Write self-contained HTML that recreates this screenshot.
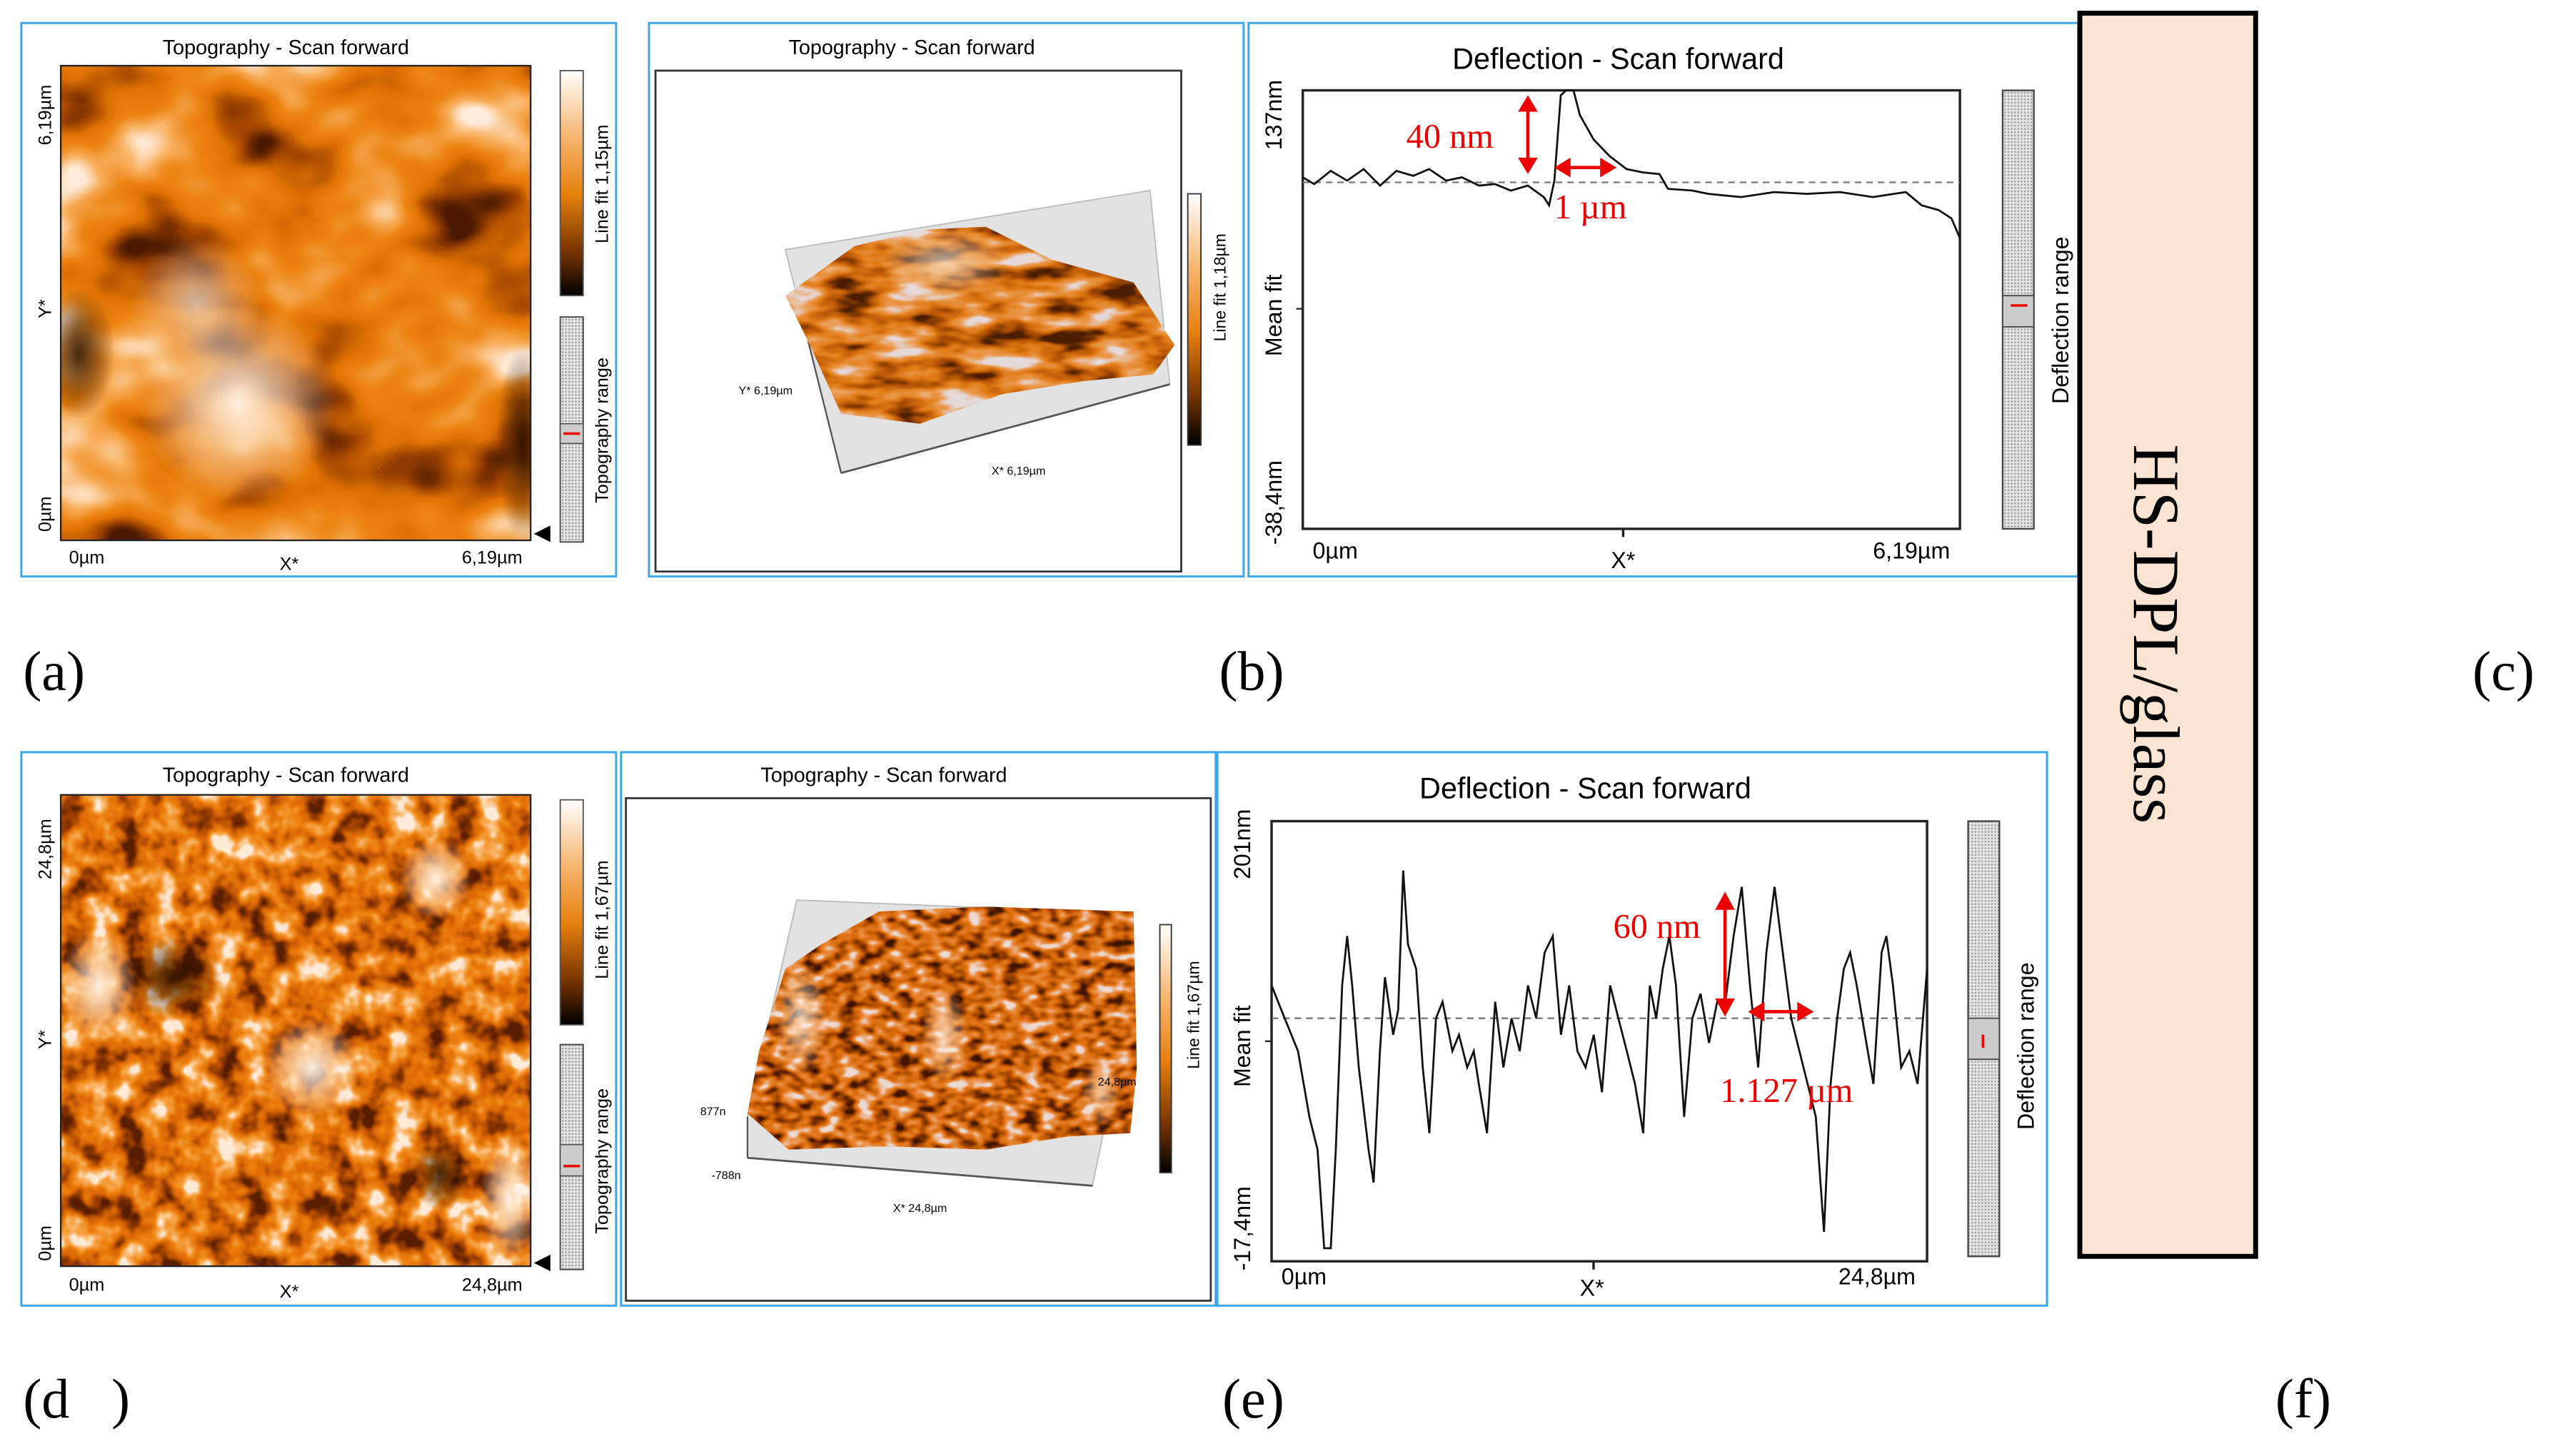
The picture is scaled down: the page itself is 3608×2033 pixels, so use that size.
<!DOCTYPE html>
<html><head><meta charset="utf-8"><style>
html,body{margin:0;padding:0;background:#fff;}
svg{display:block;}
text{font-family:"Liberation Sans",Arial,sans-serif;}
.serif{font-family:"Liberation Serif","Times New Roman",serif;}
filter{color-interpolation-filters:sRGB;}
</style></head><body>
<svg id="fig" width="3608" height="2033" viewBox="0 0 1568 883.5" xmlns="http://www.w3.org/2000/svg">
<defs>
  <linearGradient id="cbar" x1="0" y1="0" x2="0" y2="1">
    <stop offset="0" stop-color="#ffffff"/><stop offset="0.3" stop-color="#f6b46c"/><stop offset="0.55" stop-color="#e6800f"/><stop offset="0.8" stop-color="#7a3500"/><stop offset="1" stop-color="#000"/>
  </linearGradient>
  <pattern id="dots" width="2" height="2" patternUnits="userSpaceOnUse"><rect width="2" height="2" fill="#e4e4e4"/><rect width="1" height="1" fill="#9a9a9a"/></pattern>
  <filter id="topoA" x="0" y="0" width="1" height="1" color-interpolation-filters="sRGB">
    <feTurbulence type="fractalNoise" baseFrequency="0.012 0.016" numOctaves="3" seed="7"/>
    <feColorMatrix type="matrix" values="2.0 0 0 0 -0.5  2.0 0 0 0 -0.5  2.0 0 0 0 -0.5  0 0 0 0 1"/>
    <feComponentTransfer><feFuncR type="table" tableValues="0.3 0.65 0.88 0.93 0.97 1"/><feFuncG type="table" tableValues="0.1 0.28 0.45 0.52 0.68 0.92"/><feFuncB type="table" tableValues="0 0 0.02 0.08 0.35 0.85"/></feComponentTransfer>
  </filter>
  <filter id="topoD" x="0" y="0" width="1" height="1" color-interpolation-filters="sRGB">
    <feTurbulence type="fractalNoise" baseFrequency="0.055" numOctaves="3" seed="3"/>
    <feColorMatrix type="matrix" values="2.0 0 0 0 -0.5  2.0 0 0 0 -0.5  2.0 0 0 0 -0.5  0 0 0 0 1"/>
    <feComponentTransfer><feFuncR type="table" tableValues="0.35 0.62 0.85 0.93 0.97 1"/><feFuncG type="table" tableValues="0.12 0.25 0.4 0.5 0.66 0.92"/><feFuncB type="table" tableValues="0 0 0.02 0.06 0.3 0.85"/></feComponentTransfer>
  </filter>
  <filter id="surfB" x="0" y="0" width="1" height="1" color-interpolation-filters="sRGB">
    <feTurbulence type="fractalNoise" baseFrequency="0.03 0.08" numOctaves="3" seed="11"/>
    <feColorMatrix type="matrix" values="2 0 0 0 -0.5  2 0 0 0 -0.5  2 0 0 0 -0.5  0 0 0 0 1"/>
    <feComponentTransfer><feFuncR type="table" tableValues="0.3 0.7 0.88 0.92 0.9"/><feFuncG type="table" tableValues="0.12 0.32 0.48 0.6 0.85"/><feFuncB type="table" tableValues="0 0.02 0.08 0.3 0.85"/></feComponentTransfer>
  </filter>
  <filter id="surfE" x="0" y="0" width="1" height="1" color-interpolation-filters="sRGB">
    <feTurbulence type="fractalNoise" baseFrequency="0.09 0.14" numOctaves="2" seed="5"/>
    <feColorMatrix type="matrix" values="2 0 0 0 -0.5  2 0 0 0 -0.5  2 0 0 0 -0.5  0 0 0 0 1"/>
    <feComponentTransfer><feFuncR type="table" tableValues="0.25 0.62 0.86 0.92 0.92"/><feFuncG type="table" tableValues="0.08 0.26 0.42 0.55 0.85"/><feFuncB type="table" tableValues="0 0 0.04 0.25 0.82"/></feComponentTransfer>
  </filter>
  <radialGradient id="hiA" cx="0.5" cy="0.5" r="0.5"><stop offset="0" stop-color="#fff6ea" stop-opacity="0.95"/><stop offset="1" stop-color="#fff6ea" stop-opacity="0"/></radialGradient>
  <radialGradient id="loA" cx="0.5" cy="0.5" r="0.5"><stop offset="0" stop-color="#1a0800" stop-opacity="0.8"/><stop offset="1" stop-color="#1a0800" stop-opacity="0"/></radialGradient>
  <clipPath id="clipA"><rect x="37" y="40" width="286" height="289"/></clipPath>
  <clipPath id="clipD"><rect x="37" y="484" width="286" height="287"/></clipPath>
  <clipPath id="clipSB"><polygon points="478,180 520,150 560,140 600,138 640,158 690,172 715,210 702,228 660,232 610,240 560,258 512,252 492,208"/></clipPath>
  <clipPath id="clipSE"><polygon points="455,678 462,640 478,590 500,575 535,555 600,552 690,555 692,650 688,690 650,692 600,700 540,698 480,700"/></clipPath>
</defs>

<!-- Panel a -->
<g>
  <rect x="13" y="14" width="362" height="337" fill="#fff" stroke="#3aa8e8" stroke-width="1.3"/>
  <text x="174" y="33" font-size="12.5" text-anchor="middle">Topography - Scan forward</text>
  <g clip-path="url(#clipA)">
    <rect x="37" y="40" width="286" height="289" filter="url(#topoA)"/>
    <ellipse cx="145" cy="245" rx="60" ry="60" fill="url(#hiA)"/>
    <ellipse cx="120" cy="185" rx="40" ry="40" fill="url(#hiA)" opacity="0.7"/>
    <ellipse cx="48" cy="215" rx="22" ry="40" fill="url(#loA)"/>
    <ellipse cx="318" cy="270" rx="16" ry="60" fill="url(#loA)"/>
  </g>
  <rect x="37" y="40" width="286" height="289" fill="none" stroke="#222" stroke-width="1"/>
  <text transform="translate(31,70) rotate(-90)" font-size="11" text-anchor="middle">6,19µm</text>
  <text transform="translate(31,188) rotate(-90)" font-size="11" text-anchor="middle">Y*</text>
  <text transform="translate(31,313) rotate(-90)" font-size="11" text-anchor="middle">0µm</text>
  <text x="42" y="343" font-size="11">0µm</text>
  <text x="176" y="347" font-size="11" text-anchor="middle">X*</text>
  <text x="318" y="343" font-size="11" text-anchor="end">6,19µm</text>
  <rect x="341" y="43" width="14" height="137" fill="url(#cbar)" stroke="#555" stroke-width="0.8"/>
  <text transform="translate(370,112) rotate(-90)" font-size="11" text-anchor="middle">Line fit 1,15µm</text>
  <rect x="341" y="193" width="14" height="137" fill="url(#dots)" stroke="#444" stroke-width="0.8"/>
  <rect x="341" y="258" width="14" height="12" fill="#ccc" stroke="#444" stroke-width="0.6"/>
  <line x1="343" y1="264" x2="353" y2="264" stroke="#e00" stroke-width="1.5"/>
  <text transform="translate(370,262) rotate(-90)" font-size="11" text-anchor="middle">Topography range</text>
  <polygon points="325,325 335,320 335,330" fill="#000"/>
</g>

<!-- Panel b 3D -->
<g>
  <rect x="395" y="14" width="362" height="337" fill="#fff" stroke="#3aa8e8" stroke-width="1.3"/>
  <text x="555" y="33" font-size="12.5" text-anchor="middle">Topography - Scan forward</text>
  <rect x="399" y="43" width="320" height="305" fill="#fff" stroke="#333" stroke-width="1.2"/>
  <polygon points="478,152 700,116 712,234 512,288" fill="#e2e2e2" stroke="#bbb" stroke-width="0.8"/>
  <line x1="512" y1="288" x2="712" y2="234" stroke="#555" stroke-width="1.2"/>
  <line x1="512" y1="288" x2="492" y2="208" stroke="#555" stroke-width="1"/>
  <g clip-path="url(#clipSB)">
    <rect x="470" y="130" width="250" height="135" filter="url(#surfB)"/>
    <ellipse cx="575" cy="160" rx="40" ry="22" fill="url(#hiA)" opacity="0.7"/>
  </g>
  <text x="466" y="240" font-size="7" text-anchor="middle">Y* 6,19µm</text>
  <text x="620" y="289" font-size="7" text-anchor="middle">X* 6,19µm</text>
  <rect x="723" y="118" width="8" height="153" fill="url(#cbar)" stroke="#333" stroke-width="0.8"/>
  <text transform="translate(746,175) rotate(-90)" font-size="10" text-anchor="middle">Line fit 1,18µm</text>
</g>

<!-- Panel c deflection -->
<g>
  <rect x="760" y="14" width="505" height="337" fill="#fff" stroke="#3aa8e8" stroke-width="1.3"/>
  <text x="985" y="42" font-size="18" text-anchor="middle">Deflection - Scan forward</text>
  <rect x="793" y="55" width="400" height="267" fill="#fff" stroke="#222" stroke-width="1.5"/>
  <g id="chartC"></g>
  <text transform="translate(780,70) rotate(-90)" font-size="14" text-anchor="middle">137nm</text>
  <text transform="translate(780,192) rotate(-90)" font-size="14" text-anchor="middle">Mean fit</text>
  <text transform="translate(780,306) rotate(-90)" font-size="14" text-anchor="middle">-38,4nm</text>
  <line x1="789" y1="188" x2="793" y2="188" stroke="#222"/>
  <line x1="988" y1="322" x2="988" y2="327" stroke="#222" stroke-width="1.5"/>
  <text x="799" y="340" font-size="14">0µm</text>
  <text x="988" y="346" font-size="14" text-anchor="middle">X*</text>
  <text x="1187" y="340" font-size="14" text-anchor="end">6,19µm</text>
  <rect x="1219" y="55" width="19" height="267" fill="url(#dots)" stroke="#444" stroke-width="1"/>
  <rect x="1219" y="180" width="19" height="19" fill="#ccc" stroke="#444" stroke-width="0.8"/>
  <line x1="1224" y1="186" x2="1234" y2="186" stroke="#e00" stroke-width="1.5"/>
  <text transform="translate(1259,195) rotate(-90)" font-size="14" text-anchor="middle">Deflection range</text>
  <g fill="#e00" stroke="#e00">
    <line x1="930" y1="64" x2="930" y2="100" stroke-width="2"/>
    <polygon points="930,58 924,68 936,68" stroke="none"/><polygon points="930,106 924,96 936,96" stroke="none"/>
    <text class="serif" x="856" y="90" font-size="21" stroke="none">40 nm</text>
    <line x1="952" y1="102" x2="978" y2="102" stroke-width="2"/>
    <polygon points="946,102 956,96 956,108" stroke="none"/><polygon points="984,102 974,96 974,108" stroke="none"/>
    <text class="serif" x="946" y="133" font-size="21" stroke="none">1 µm</text>
  </g>
</g>

<!-- HS-DPL/glass box -->
<rect x="1266" y="8" width="107" height="757" fill="#fce4d2" stroke="#000" stroke-width="3"/>
<text class="serif" transform="translate(1299,386) rotate(90)" font-size="40" text-anchor="middle">HS-DPL/glass</text>

<!-- Labels -->
<text class="serif" x="14" y="420" font-size="34">(a)</text>
<text class="serif" x="742" y="420" font-size="34">(b)</text>
<text class="serif" x="1505" y="420" font-size="34">(c)</text>
<text class="serif" x="14" y="863" font-size="34" xml:space="preserve">(d   )</text>
<text class="serif" x="744" y="863" font-size="34">(e)</text>
<text class="serif" x="1385" y="863" font-size="34">(f)</text>

<!-- Panel d -->
<g>
  <rect x="13" y="458" width="362" height="337" fill="#fff" stroke="#3aa8e8" stroke-width="1.3"/>
  <text x="174" y="476" font-size="12.5" text-anchor="middle">Topography - Scan forward</text>
  <g clip-path="url(#clipD)">
    <rect x="37" y="484" width="286" height="287" filter="url(#topoD)"/>
    <ellipse cx="60" cy="600" rx="24" ry="35" fill="url(#hiA)"/>
    <ellipse cx="190" cy="650" rx="30" ry="30" fill="url(#hiA)"/>
    <ellipse cx="265" cy="535" rx="22" ry="25" fill="url(#hiA)"/>
    <ellipse cx="310" cy="730" rx="18" ry="40" fill="url(#hiA)"/>
    <ellipse cx="105" cy="595" rx="30" ry="25" fill="url(#loA)"/>
    <ellipse cx="268" cy="715" rx="18" ry="22" fill="url(#loA)"/>
  </g>
  <rect x="37" y="484" width="286" height="287" fill="none" stroke="#222" stroke-width="1"/>
  <text transform="translate(31,517) rotate(-90)" font-size="11" text-anchor="middle">24,8µm</text>
  <text transform="translate(31,633) rotate(-90)" font-size="11" text-anchor="middle">Y*</text>
  <text transform="translate(31,757) rotate(-90)" font-size="11" text-anchor="middle">0µm</text>
  <text x="42" y="786" font-size="11">0µm</text>
  <text x="176" y="790" font-size="11" text-anchor="middle">X*</text>
  <text x="318" y="786" font-size="11" text-anchor="end">24,8µm</text>
  <rect x="341" y="487" width="14" height="137" fill="url(#cbar)" stroke="#555" stroke-width="0.8"/>
  <text transform="translate(370,560) rotate(-90)" font-size="11" text-anchor="middle">Line fit 1,67µm</text>
  <rect x="341" y="636" width="14" height="137" fill="url(#dots)" stroke="#444" stroke-width="0.8"/>
  <rect x="341" y="697" width="14" height="19" fill="#ccc" stroke="#444" stroke-width="0.6"/>
  <line x1="343" y1="710" x2="353" y2="710" stroke="#e00" stroke-width="1.5"/>
  <text transform="translate(370,707) rotate(-90)" font-size="11" text-anchor="middle">Topography range</text>
  <polygon points="325,769 335,764 335,774" fill="#000"/>
</g>

<!-- Panel e 3D -->
<g>
  <rect x="378" y="458" width="362" height="337" fill="#fff" stroke="#3aa8e8" stroke-width="1.3"/>
  <text x="538" y="476" font-size="12.5" text-anchor="middle">Topography - Scan forward</text>
  <rect x="381" y="486" width="356" height="306" fill="#fff" stroke="#333" stroke-width="1.2"/>
  <polygon points="485,548 655,555 690,600 665,722 455,705 455,680" fill="#e2e2e2" stroke="#bbb" stroke-width="0.8"/>
  <line x1="455" y1="705" x2="665" y2="722" stroke="#555" stroke-width="1.2"/>
  <line x1="455" y1="680" x2="455" y2="705" stroke="#555"/>
  <g clip-path="url(#clipSE)">
    <rect x="450" y="545" width="245" height="160" filter="url(#surfE)"/>
    <ellipse cx="488" cy="620" rx="16" ry="35" fill="url(#hiA)" opacity="0.8"/>
    <ellipse cx="575" cy="630" rx="14" ry="30" fill="url(#hiA)" opacity="0.7"/>
    <ellipse cx="670" cy="665" rx="12" ry="22" fill="url(#hiA)" opacity="0.6"/>
  </g>
  <text x="434" y="679" font-size="7" text-anchor="middle">877n</text>
  <text x="442" y="718" font-size="7" text-anchor="middle">-788n</text>
  <text x="680" y="661" font-size="7" text-anchor="middle">24,8µm</text>
  <text x="560" y="738" font-size="7" text-anchor="middle">X* 24,8µm</text>
  <rect x="706" y="563" width="7" height="151" fill="url(#cbar)" stroke="#333" stroke-width="0.8"/>
  <text transform="translate(730,618) rotate(-90)" font-size="10" text-anchor="middle">Line fit 1,67µm</text>
</g>

<!-- Panel f deflection -->
<g>
  <rect x="741" y="458" width="505" height="337" fill="#fff" stroke="#3aa8e8" stroke-width="1.3"/>
  <text x="965" y="486" font-size="18" text-anchor="middle">Deflection - Scan forward</text>
  <rect x="774" y="500" width="399" height="268" fill="#fff" stroke="#222" stroke-width="1.5"/>
  <g id="chartF"></g>
  <text transform="translate(761,514) rotate(-90)" font-size="14" text-anchor="middle">201nm</text>
  <text transform="translate(761,637) rotate(-90)" font-size="14" text-anchor="middle">Mean fit</text>
  <text transform="translate(761,748) rotate(-90)" font-size="14" text-anchor="middle">-17,4nm</text>
  <line x1="770" y1="634" x2="774" y2="634" stroke="#222"/>
  <line x1="970" y1="768" x2="970" y2="773" stroke="#222" stroke-width="1.5"/>
  <text x="780" y="782" font-size="14">0µm</text>
  <text x="969" y="789" font-size="14" text-anchor="middle">X*</text>
  <text x="1166" y="782" font-size="14" text-anchor="end">24,8µm</text>
  <rect x="1198" y="500" width="19" height="265" fill="url(#dots)" stroke="#444" stroke-width="1"/>
  <rect x="1198" y="620" width="19" height="25" fill="#ccc" stroke="#444" stroke-width="0.8"/>
  <line x1="1207" y1="630" x2="1207" y2="638" stroke="#e00" stroke-width="1.5"/>
  <text transform="translate(1238,637) rotate(-90)" font-size="14" text-anchor="middle">Deflection range</text>
  <g fill="#e00" stroke="#e00">
    <line x1="1050" y1="550" x2="1050" y2="612" stroke-width="2"/>
    <polygon points="1050,543 1044,554 1056,554" stroke="none"/><polygon points="1050,619 1044,608 1056,608" stroke="none"/>
    <text class="serif" x="982" y="571" font-size="21" stroke="none">60 nm</text>
    <line x1="1070" y1="616" x2="1098" y2="616" stroke-width="2"/>
    <polygon points="1064,616 1074,610 1074,622" stroke="none"/><polygon points="1104,616 1094,610 1094,622" stroke="none"/>
    <text class="serif" x="1047" y="671" font-size="21" stroke="none">1.127 µm</text>
  </g>
</g>
</svg>
<script>
// Panel c data (µm, nm)
const cX = [0,0.108,0.263,0.418,0.573,0.728,0.882,1.04,1.19,1.35,1.50,1.66,1.81,1.96,2.12,2.27,2.32,2.37,2.43,2.48,2.55,2.61,2.74,2.89,3.05,3.20,3.36,3.44,3.67,3.82,4.13,4.44,4.75,5.06,5.37,5.68,5.83,5.99,6.11,6.19];
const cY = [102.2,99.5,104.8,100.9,105.5,98.9,104.8,102.8,105.5,100.9,102.2,98.9,99.5,96.9,98.9,94.3,91.0,100.9,135.0,137,137,127.1,117.3,110.7,105.5,104.2,103.5,97.6,96.9,95.6,94.3,96.3,95.6,96.3,94.3,96.3,91.0,89.1,85.8,77.9];
const cMean = 100.2;
const cDomain = [0, 6.19];
const cRange = [-38.4, 137];
// Panel f data (µm, nm)
const fX = [0,0.37,1.0,1.43,1.74,1.99,2.24,2.43,2.67,2.86,3.05,3.30,3.67,3.86,4.10,4.29,4.60,4.79,4.98,5.16,5.47,5.72,5.97,6.22,6.47,6.84,7.09,7.40,7.65,7.84,8.15,8.46,8.77,9.08,9.39,9.70,10.01,10.33,10.64,10.95,11.26,11.57,11.88,12.19,12.50,12.81,13.12,13.44,13.75,14.06,14.31,14.55,14.80,15.05,15.30,15.61,15.92,16.23,16.55,16.86,17.17,17.48,17.79,18.10,18.41,18.72,19.03,19.34,19.66,20.28,20.59,20.90,21.15,21.40,21.65,21.89,22.14,22.45,22.77,23.08,23.26,23.51,23.82,24.13,24.44,24.8];
const fY = [119.5,107.3,86.9,54.3,38,-10.9,-10.9,38,119.5,144,119.5,78.8,38,21.7,86.9,123.6,95,107.3,176.5,139.9,127.7,78.8,46.2,103.2,111.4,86.9,95,78.8,86.9,70.6,46.2,111.4,78.8,103.2,86.9,119.5,103.2,135.8,144,95,119.5,86.9,78.8,95,66.5,119.5,103.2,86.9,70.6,46.2,119.5,103.2,127.7,144,119.5,54.3,103.2,115.4,91,111.4,111.4,144,168.4,119.5,78.8,135.8,168.4,135.8,103.2,70.6,54.3,-2.8,70.6,103.2,127.7,135.8,119.5,95,70.6,135.8,144,119.5,78.8,86.9,70.6,127.7];
const fMean = 103.2;
const fDomain = [0, 24.8];
const fRange = [-17.4, 201];

const NS = 'http://www.w3.org/2000/svg';
function axis(d0, d1, p0, p1) { return v => p0 + (v - d0) / (d1 - d0) * (p1 - p0); }
function draw(gid, xs, ys, mean, dom, rng, box, prefix) {
  const g = document.getElementById(gid);
  const sx = axis(dom[0], dom[1], box.x0, box.x1);
  const sy = axis(rng[0], rng[1], box.y1, box.y0);
  const m = document.createElementNS(NS, 'line');
  m.setAttribute('x1', box.x0); m.setAttribute('x2', box.x1);
  m.setAttribute('y1', sy(mean)); m.setAttribute('y2', sy(mean));
  m.setAttribute('stroke', '#777'); m.setAttribute('stroke-dasharray', '4 3'); m.setAttribute('stroke-width', '1');
  
  
  g.appendChild(m);
  let d = '';
  for (let i = 0; i < xs.length; i++) d += (i ? 'L' : 'M') + sx(xs[i]).toFixed(2) + ',' + sy(ys[i]).toFixed(2);
  const p = document.createElementNS(NS, 'path');
  p.setAttribute('d', d); p.setAttribute('fill', 'none'); p.setAttribute('stroke', '#111'); p.setAttribute('stroke-width', '1.2');
  
  
  g.appendChild(p);
}
draw('chartC', cX, cY, cMean, cDomain, cRange, {x0:793, x1:1193, y0:55, y1:322}, 'panel-c');
draw('chartF', fX, fY, fMean, fDomain, fRange, {x0:774, x1:1173, y0:500, y1:768}, 'panel-f');
</script>
</body></html>
